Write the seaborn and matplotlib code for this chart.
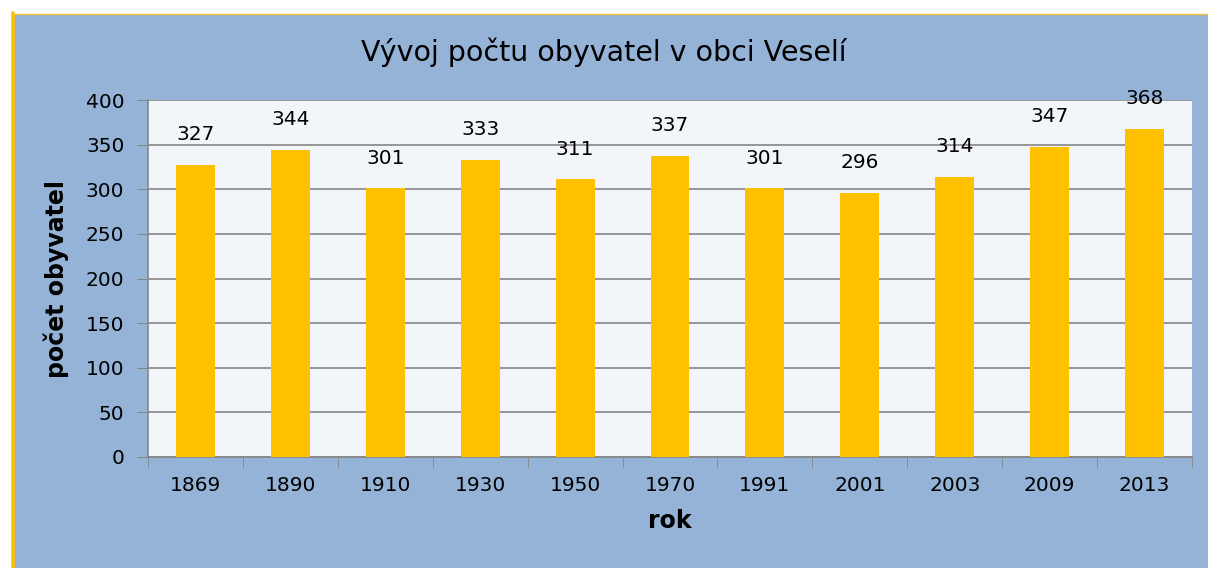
import matplotlib
matplotlib.use('Agg')
import matplotlib.pyplot as plt
import seaborn as sns
import pandas as pd
from matplotlib.patches import Rectangle
from matplotlib.lines import Line2D

# data
roky = ['1869', '1890', '1910', '1930', '1950', '1970', '1991', '2001', '2003', '2009', '2013']
obyvatel = [327, 344, 301, 333, 311, 337, 301, 296, 314, 347, 368]
y_ticks = [0, 50, 100, 150, 200, 250, 300, 350, 400]

df = pd.DataFrame({'rok': roky, 'obyvatel': obyvatel})

sns.set_style('white')
plt.rcParams['font.family'] = ['DejaVu Sans']
plt.rcParams['text.color'] = 'black'
plt.rcParams['axes.labelcolor'] = 'black'
plt.rcParams['xtick.color'] = 'black'
plt.rcParams['ytick.color'] = 'black'

W, H = 1208, 568
fig = plt.figure(figsize=(W / 100, H / 100), dpi=100)
fig.patch.set_facecolor('white')

# modre pozadi grafu se zlutym okrajem
x0 = 13 / W
fig.patches.append(Rectangle((x0, 0), 1 - x0, 1 - 14 / H, transform=fig.transFigure,
                             facecolor='#95B3D7', edgecolor='none', zorder=-2))
fig.lines.append(Line2D([x0, x0], [0, 1 - 13 / H], transform=fig.transFigure,
                        color='#FFC000', lw=2.6, zorder=-1))
fig.lines.append(Line2D([x0, 1], [1 - 13.5 / H, 1 - 13.5 / H], transform=fig.transFigure,
                        color='#F0C030', lw=1.0, zorder=-1))

ax = fig.add_axes([148 / W, 1 - 457 / H, (1192 - 148) / W, (457 - 100) / H])
ax.set_facecolor('#F2F5FA')

sns.barplot(data=df, x='rok', y='obyvatel', color='#FFC000', width=0.41,
            saturation=1, linewidth=0, ax=ax, zorder=3)
ax.bar_label(ax.containers[0], padding=15, fontsize=14.5, color='black')

ax.set_ylim(0, 400)
ax.set_yticks(y_ticks)
ax.set_xlim(-0.5, len(roky) - 0.5)
ax.yaxis.grid(True, color='#868686', lw=1.2, zorder=0)
ax.set_axisbelow(True)

for s in ['top', 'right']:
    ax.spines[s].set_visible(False)
for s in ['left', 'bottom']:
    ax.spines[s].set_color('#868686')
    ax.spines[s].set_linewidth(1.2)

ax.tick_params(axis='y', length=8, color='#868686', labelsize=14.5, pad=9, left=True)
ax.tick_params(axis='x', length=0, labelsize=14.5, pad=14)
# znacky mezi kategoriemi
ax.set_xticks([i - 0.5 for i in range(len(roky) + 1)], minor=True)
ax.tick_params(axis='x', which='minor', length=8, color='#868686', bottom=True)

ax.set_xlabel('rok', fontsize=17, fontweight='bold', labelpad=10)
ax.set_ylabel('počet obyvatel', fontsize=17, fontweight='bold', labelpad=12)

fig.text(0.5, 1 - 52 / H, 'Vývoj počtu obyvatel v obci Veselí', ha='center', va='center',
         fontsize=20.5)

fig.savefig('out.png', dpi=100, facecolor=fig.get_facecolor())
